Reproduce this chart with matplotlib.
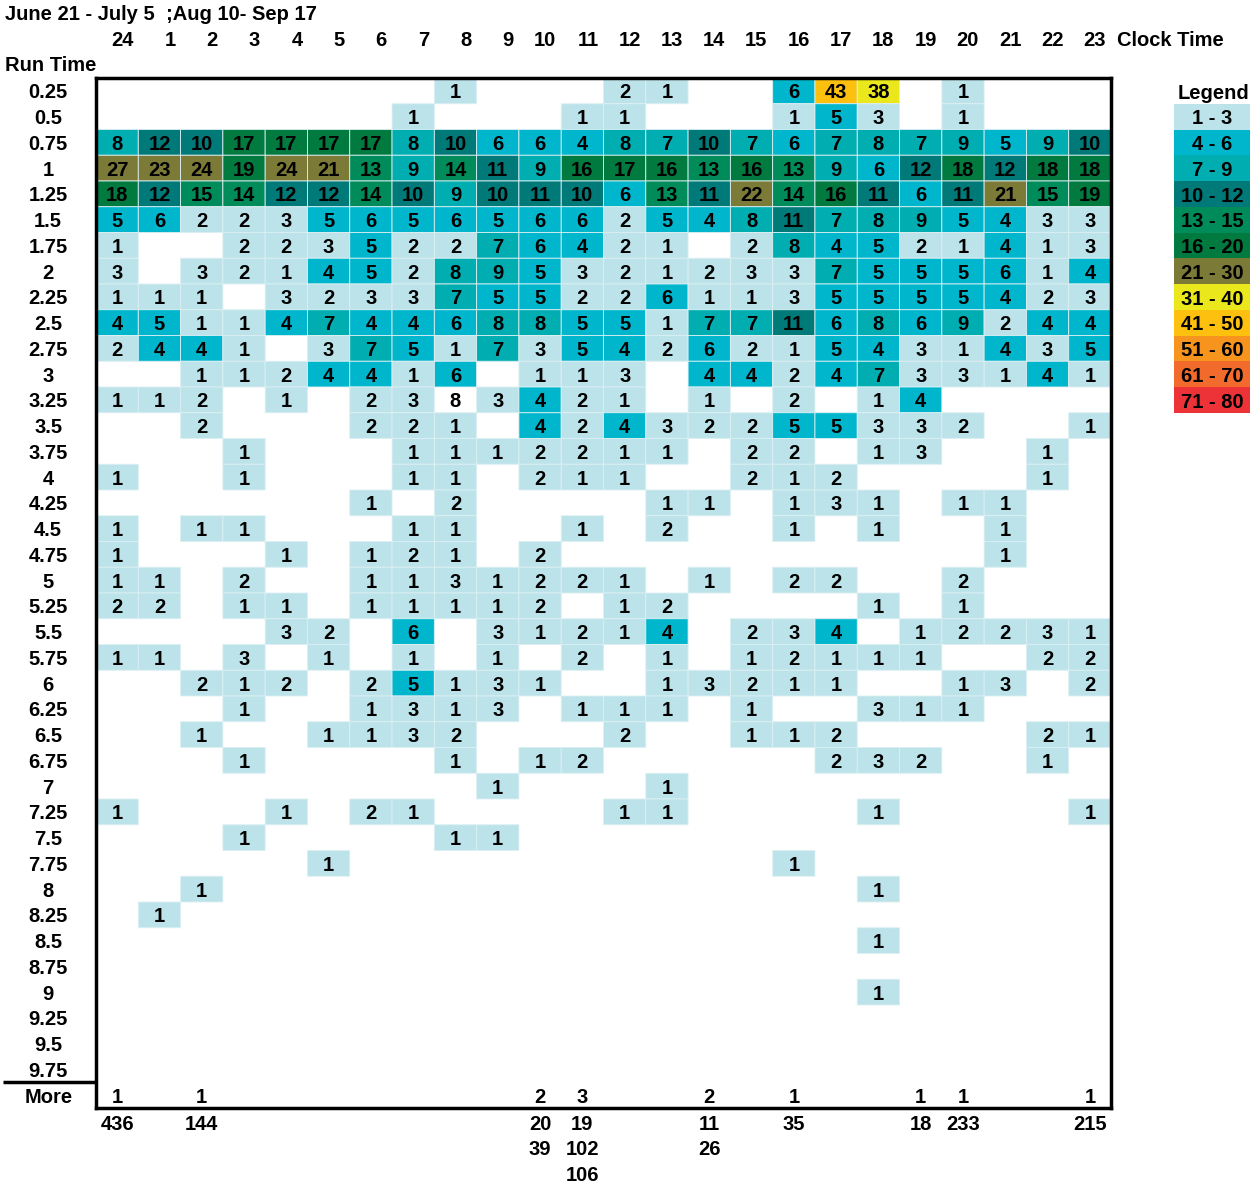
import numpy as np
import matplotlib
matplotlib.use("Agg")
import matplotlib.pyplot as plt
from matplotlib.colors import ListedColormap, BoundaryNorm

plt.rcParams["font.family"] = ["Liberation Sans", "DejaVu Sans"]
plt.rcParams["font.weight"] = "bold"

title = "June 21 - July 5  ;Aug 10- Sep 17"
hours = ["24", "1", "2", "3", "4", "5", "6", "7", "8", "9", "10", "11",
         "12", "13", "14", "15", "16", "17", "18", "19", "20", "21", "22", "23"]
run_times = ["0.25", "0.5", "0.75", "1", "1.25", "1.5", "1.75", "2", "2.25", "2.5",
             "2.75", "3", "3.25", "3.5", "3.75", "4", "4.25", "4.5", "4.75", "5",
             "5.25", "5.5", "5.75", "6", "6.25", "6.5", "6.75", "7", "7.25", "7.5",
             "7.75", "8", "8.25", "8.5", "8.75", "9", "9.25", "9.5", "9.75"]

# counts per run time row (0 = empty), columns follow `hours`
counts = [
    [0, 0, 0, 0, 0, 0, 0, 0, 1, 0, 0, 0, 2, 1, 0, 0, 6, 43, 38, 0, 1, 0, 0, 0],
    [0, 0, 0, 0, 0, 0, 0, 1, 0, 0, 0, 1, 1, 0, 0, 0, 1, 5, 3, 0, 1, 0, 0, 0],
    [8, 12, 10, 17, 17, 17, 17, 8, 10, 6, 6, 4, 8, 7, 10, 7, 6, 7, 8, 7, 9, 5, 9, 10],
    [27, 23, 24, 19, 24, 21, 13, 9, 14, 11, 9, 16, 17, 16, 13, 16, 13, 9, 6, 12, 18, 12, 18, 18],
    [18, 12, 15, 14, 12, 12, 14, 10, 9, 10, 11, 10, 6, 13, 11, 22, 14, 16, 11, 6, 11, 21, 15, 19],
    [5, 6, 2, 2, 3, 5, 6, 5, 6, 5, 6, 6, 2, 5, 4, 8, 11, 7, 8, 9, 5, 4, 3, 3],
    [1, 0, 0, 2, 2, 3, 5, 2, 2, 7, 6, 4, 2, 1, 0, 2, 8, 4, 5, 2, 1, 4, 1, 3],
    [3, 0, 3, 2, 1, 4, 5, 2, 8, 9, 5, 3, 2, 1, 2, 3, 3, 7, 5, 5, 5, 6, 1, 4],
    [1, 1, 1, 0, 3, 2, 3, 3, 7, 5, 5, 2, 2, 6, 1, 1, 3, 5, 5, 5, 5, 4, 2, 3],
    [4, 5, 1, 1, 4, 7, 4, 4, 6, 8, 8, 5, 5, 1, 7, 7, 11, 6, 8, 6, 9, 2, 4, 4],
    [2, 4, 4, 1, 0, 3, 7, 5, 1, 7, 3, 5, 4, 2, 6, 2, 1, 5, 4, 3, 1, 4, 3, 5],
    [0, 0, 1, 1, 2, 4, 4, 1, 6, 0, 1, 1, 3, 0, 4, 4, 2, 4, 7, 3, 3, 1, 4, 1],
    [1, 1, 2, 0, 1, 0, 2, 3, 8, 3, 4, 2, 1, 0, 1, 0, 2, 0, 1, 4, 0, 0, 0, 0],
    [0, 0, 2, 0, 0, 0, 2, 2, 1, 0, 4, 2, 4, 3, 2, 2, 5, 5, 3, 3, 2, 0, 0, 1],
    [0, 0, 0, 1, 0, 0, 0, 1, 1, 1, 2, 2, 1, 1, 0, 2, 2, 0, 1, 3, 0, 0, 1, 0],
    [1, 0, 0, 1, 0, 0, 0, 1, 1, 0, 2, 1, 1, 0, 0, 2, 1, 2, 0, 0, 0, 0, 1, 0],
    [0, 0, 0, 0, 0, 0, 1, 0, 2, 0, 0, 0, 0, 1, 1, 0, 1, 3, 1, 0, 1, 1, 0, 0],
    [1, 0, 1, 1, 0, 0, 0, 1, 1, 0, 0, 1, 0, 2, 0, 0, 1, 0, 1, 0, 0, 1, 0, 0],
    [1, 0, 0, 0, 1, 0, 1, 2, 1, 0, 2, 0, 0, 0, 0, 0, 0, 0, 0, 0, 0, 1, 0, 0],
    [1, 1, 0, 2, 0, 0, 1, 1, 3, 1, 2, 2, 1, 0, 1, 0, 2, 2, 0, 0, 2, 0, 0, 0],
    [2, 2, 0, 1, 1, 0, 1, 1, 1, 1, 2, 0, 1, 2, 0, 0, 0, 0, 1, 0, 1, 0, 0, 0],
    [0, 0, 0, 0, 3, 2, 0, 6, 0, 3, 1, 2, 1, 4, 0, 2, 3, 4, 0, 1, 2, 2, 3, 1],
    [1, 1, 0, 3, 0, 1, 0, 1, 0, 1, 0, 2, 0, 1, 0, 1, 2, 1, 1, 1, 0, 0, 2, 2],
    [0, 0, 2, 1, 2, 0, 2, 5, 1, 3, 1, 0, 0, 1, 3, 2, 1, 1, 0, 0, 1, 3, 0, 2],
    [0, 0, 0, 1, 0, 0, 1, 3, 1, 3, 0, 1, 1, 1, 0, 1, 0, 0, 3, 1, 1, 0, 0, 0],
    [0, 0, 1, 0, 0, 1, 1, 3, 2, 0, 0, 0, 2, 0, 0, 1, 1, 2, 0, 0, 0, 0, 2, 1],
    [0, 0, 0, 1, 0, 0, 0, 0, 1, 0, 1, 2, 0, 0, 0, 0, 0, 2, 3, 2, 0, 0, 1, 0],
    [0, 0, 0, 0, 0, 0, 0, 0, 0, 1, 0, 0, 0, 1, 0, 0, 0, 0, 0, 0, 0, 0, 0, 0],
    [1, 0, 0, 0, 1, 0, 2, 1, 0, 0, 0, 0, 1, 1, 0, 0, 0, 0, 1, 0, 0, 0, 0, 1],
    [0, 0, 0, 1, 0, 0, 0, 0, 1, 1, 0, 0, 0, 0, 0, 0, 0, 0, 0, 0, 0, 0, 0, 0],
    [0, 0, 0, 0, 0, 1, 0, 0, 0, 0, 0, 0, 0, 0, 0, 0, 1, 0, 0, 0, 0, 0, 0, 0],
    [0, 0, 1, 0, 0, 0, 0, 0, 0, 0, 0, 0, 0, 0, 0, 0, 0, 0, 1, 0, 0, 0, 0, 0],
    [0, 1, 0, 0, 0, 0, 0, 0, 0, 0, 0, 0, 0, 0, 0, 0, 0, 0, 0, 0, 0, 0, 0, 0],
    [0, 0, 0, 0, 0, 0, 0, 0, 0, 0, 0, 0, 0, 0, 0, 0, 0, 0, 1, 0, 0, 0, 0, 0],
    [0] * 24,
    [0, 0, 0, 0, 0, 0, 0, 0, 0, 0, 0, 0, 0, 0, 0, 0, 0, 0, 1, 0, 0, 0, 0, 0],
    [0] * 24,
    [0] * 24,
    [0] * 24,
]
# cells shown with a count but left unshaded in the original
unshaded = [("3.25", "8")]

more_counts = [1, 0, 1, 0, 0, 0, 0, 0, 0, 0, 2, 3, 0, 0, 2, 0, 1, 0, 0, 1, 1, 0, 0, 1]
more_values = {"24": [436], "2": [144], "10": [20, 39], "11": [19, 102, 106],
               "14": [11, 26], "16": [35], "19": [18], "20": [233], "23": [215]}

legend_labels = ["1 - 3", "4 - 6", "7 - 9", "10 - 12", "13 - 15", "16 - 20",
                 "21 - 30", "31 - 40", "41 - 50", "51 - 60", "61 - 70", "71 - 80"]
bin_edges = [1, 4, 7, 10, 13, 16, 21, 31, 41, 51, 61, 71, 81]
bin_colors = ["#bde3ea", "#00b6cd", "#00aeb2", "#007a79", "#008b5a", "#007a3e",
              "#7b7a37", "#eae71c", "#fdc00f", "#f7941e", "#f26a2c", "#ee3338"]

cmap = ListedColormap(bin_colors)
norm = BoundaryNorm(bin_edges, cmap.N)

n_rows = len(run_times) + 1  # plus "More"
n_cols = len(hours)

fig = plt.figure(figsize=(12.5, 11.83), dpi=100)
ax = fig.add_axes([96 / 1250, 1 - 1108 / 1183, 1015 / 1250, 1030 / 1183])

grid = np.array(counts, dtype=float)
shade = np.ma.masked_where(grid == 0, grid)
for rt, hr in unshaded:
    shade[run_times.index(rt), hours.index(hr)] = np.ma.masked
ax.pcolor(np.arange(n_cols + 1), np.arange(len(run_times) + 1), shade,
          cmap=cmap, norm=norm, edgecolors="#dcf0f3", linewidth=0.6)

fs = 14.5
va = "center_baseline"
for i in range(len(run_times)):
    for j in range(n_cols):
        if counts[i][j]:
            ax.text(j + 0.5, i + 0.5, str(counts[i][j]), ha="center", va=va,
                    fontsize=fs, fontweight="bold")
more_row = len(run_times)
for j, v in enumerate(more_counts):
    if v:
        ax.text(j + 0.5, more_row + 0.5, str(v), ha="center", va=va,
                fontsize=fs, fontweight="bold")
for hr, vals in more_values.items():
    j = hours.index(hr)
    for k, v in enumerate(vals):
        ax.text(j + 0.5, n_rows + 0.55 + k, str(v), ha="center", va=va,
                fontsize=fs, fontweight="bold", clip_on=False)

# row labels
for i, rt in enumerate(run_times + ["More"]):
    ax.text(-1.13, i + 0.5, rt, ha="center", va=va, fontsize=fs,
            fontweight="bold", clip_on=False)
# column labels
for j, hr in enumerate(hours):
    ax.text(j + 0.88, -1.55, hr, ha="right", va=va, fontsize=fs,
            fontweight="bold", clip_on=False)
ax.text(24.14, -1.55, "Clock Time", ha="left", va=va, fontsize=fs,
        fontweight="bold", clip_on=False)
ax.text(-2.16, -0.55, "Run Time", ha="left", va=va, fontsize=fs,
        fontweight="bold", clip_on=False)
ax.plot([-2.2, 0], [more_row, more_row], color="black", lw=2.5, clip_on=False,
        solid_capstyle="butt")

ax.set_xlim(0, n_cols)
ax.set_ylim(n_rows, 0)
ax.set_xticks([])
ax.set_yticks([])
for s in ax.spines.values():
    s.set_linewidth(2.5)
    s.set_color("black")

fig.text(5 / 1250, 1 - 13 / 1183, title, ha="left", va=va, fontsize=fs,
         fontweight="bold")

# legend
lax = fig.add_axes([1174 / 1250, 1 - 413 / 1183, 76 / 1250, 309 / 1183])
lax.imshow(np.arange(len(bin_colors)).reshape(-1, 1), cmap=cmap,
           norm=BoundaryNorm(np.arange(len(bin_colors) + 1) - 0.5, cmap.N),
           aspect="auto", extent=(0, 1, len(bin_colors), 0))
for k, lab in enumerate(legend_labels):
    lax.text(0.5, k + 0.5, lab, ha="center", va=va, fontsize=fs,
             fontweight="bold")
lax.text(0.52, -0.5, "Legend", ha="center", va=va, fontsize=fs,
         fontweight="bold", clip_on=False)
lax.set_xlim(0, 1)
lax.set_ylim(len(bin_colors), 0)
lax.axis("off")

fig.savefig("out.png", dpi=100)
